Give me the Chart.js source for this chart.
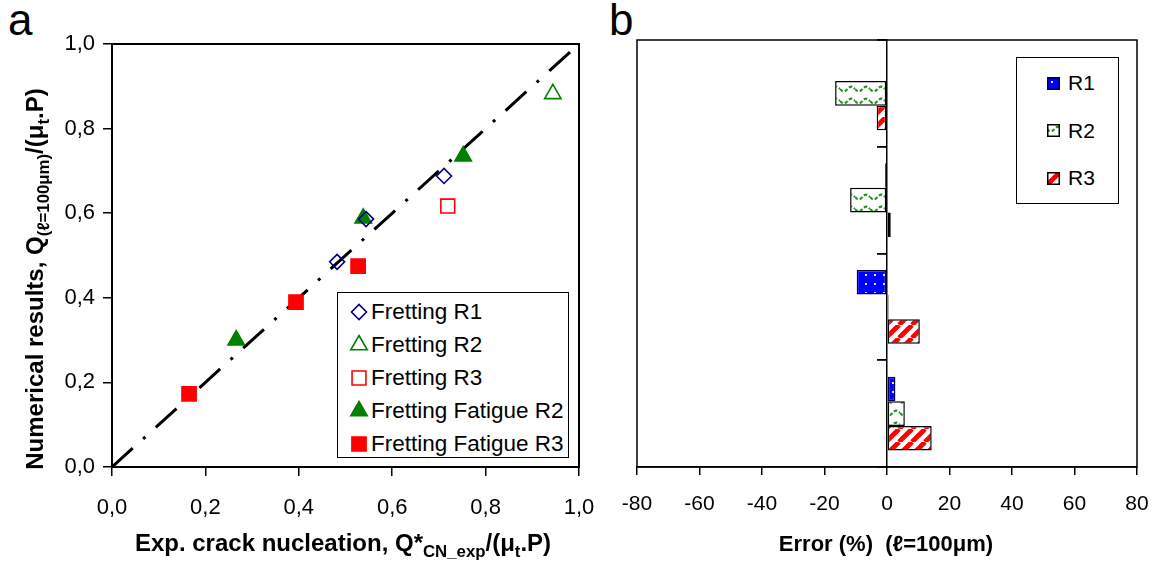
<!DOCTYPE html>
<html>
<head>
<meta charset="utf-8">
<script src="https://cdn.jsdelivr.net/npm/chart.js@4.4.0/dist/chart.umd.min.js"></script>
<style>
  html, body { margin: 0; padding: 0; background: #fff; }
  body { position: relative; width: 1154px; height: 565px; overflow: hidden;
         font-family: "Liberation Sans", Arial, sans-serif; color: #000; }
  canvas.fig { position: absolute; top: 0; }
  #fig-a { left: 0; }
  #fig-b { left: 600px; }
  .panel { position: absolute; font-size: 44px; line-height: 44px; }
  .title { position: absolute; font-weight: bold; white-space: nowrap; text-align: center;
           font-size: 24px; line-height: 28px; }
  .title sub { font-size: 70%; vertical-align: -0.35em; line-height: 0; }
  .legend { position: absolute; border: 1.5px solid #000; background: #fff; box-sizing: border-box; }
  .legend span { position: absolute; white-space: nowrap; line-height: 26px; }
  .legend canvas { position: absolute; }
</style>
</head>
<body>

<div class="panel" style="left:8px;top:-2px">a</div>
<div class="panel" style="left:609px;top:-2px">b</div>

<canvas class="fig" id="fig-a" width="600" height="565"></canvas>
<canvas class="fig" id="fig-b" width="554" height="565"></canvas>

<div class="title" id="ytitle-a" style="left:-215px;top:265px;width:500px;transform:rotate(-90deg)">Numerical results, Q<sub>(ℓ=100μm)</sub>/(μ<sub>t</sub>.P)</div>
<div class="title" id="xtitle-a" style="left:93px;top:529px;width:500px">Exp. crack nucleation, Q*<sub>CN_exp</sub>/(μ<sub>t</sub>.P)</div>
<div class="title" id="xtitle-b" style="left:736px;top:530px;width:300px;font-size:22px">Error (%)&nbsp;&nbsp;(ℓ=100μm)</div>

<div class="legend" id="legend-a" style="left:337px;top:292px;width:232px;height:166px"></div>
<div class="legend" id="legend-b" style="left:1016px;top:57px;width:103px;height:147px"></div>

<script>
/*-----------------------------
Data (a): numerical vs experimental, normalised
------------------------------*/
const seriesA = ['Fretting R1', 'Fretting R2', 'Fretting R3', 'Fretting Fatigue R2', 'Fretting Fatigue R3'];

const fr1X = [0.482, 0.544, 0.711];
const fr1Y = [0.485, 0.586, 0.688];
const fr2X = [0.944];
const fr2Y = [0.882];
const fr3X = [0.719];
const fr3Y = [0.617];
const ffr2X = [0.266, 0.538, 0.752];
const ffr2Y = [0.300, 0.588, 0.735];
const ffr3X = [0.165, 0.394, 0.527];
const ffr3Y = [0.173, 0.390, 0.475];

// y = x reference line
const diagX = [0, 1];
const diagY = [0, 1];

/*-----------------------------
Data (b): error in %, four cases, three ratios
------------------------------*/
const seriesB = ['R1', 'R2', 'R3'];
const cases = ['1', '2', '3', '4'];
const errR1 = [null, -0.6, -9.7, 2.7];
const errR2 = [-16.6, -11.8, 0.5, 5.7];
const errR3 = [-3.3, 1.2, 10.5, 14.3];

Chart.defaults.font.family = '"Liberation Sans", Arial, sans-serif';
Chart.defaults.color = '#000';

function pts(xs, ys) {
    return xs.map((x, i) => ({x: x, y: ys[i]}));
}

function comma(v) {
    return v.toFixed(1).replace('.', ',');
}

// fixed axis box, no label overhang padding (canvas margins handle it)
function bottomAxisFit(s) {
    s.paddingLeft = 0;
    s.paddingRight = 0;
    s.height = 60;
}

// box around the plot area
const frame = {
    id: 'frame',
    afterDraw(chart, args, opts) {
        const a = chart.chartArea;
        const ctx = chart.ctx;
        ctx.save();
        ctx.strokeStyle = '#000';
        ctx.lineWidth = opts.width || 1.5;
        ctx.strokeRect(a.left, a.top, a.right - a.left, a.bottom - a.top);
        ctx.restore();
    }
};

//------------------------
// marker styles (a)
//------------------------
const markerA = [
    {pointStyle: 'rectRot', radius: 7.5, fill: 'rgba(0,0,0,0)', stroke: '#000080'},
    {pointStyle: 'triangle', radius: 9.5, fill: 'rgba(0,0,0,0)', stroke: '#008000'},
    {pointStyle: 'rect', radius: 9.8, fill: 'rgba(0,0,0,0)', stroke: '#FF0000'},
    {pointStyle: 'triangle', radius: 9.5, fill: '#008000', stroke: '#008000'},
    {pointStyle: 'rect', radius: 10, fill: '#FF0000', stroke: '#FF0000'}
];
const valuesA = [pts(fr1X, fr1Y), pts(fr2X, fr2Y), pts(fr3X, fr3Y), pts(ffr2X, ffr2Y), pts(ffr3X, ffr3Y)];

const datasetsA = seriesA.map((name, i) => ({
    label: name,
    data: valuesA[i],
    pointStyle: markerA[i].pointStyle,
    pointRadius: markerA[i].radius,
    pointBackgroundColor: markerA[i].fill,
    pointBorderColor: markerA[i].stroke,
    pointBorderWidth: 1.6
}));
datasetsA.push({
    label: 'y = x',
    data: pts(diagX, diagY),
    showLine: true,
    borderColor: '#000',
    borderWidth: 3,
    borderDash: [28, 14, 3, 14],
    pointRadius: 0
});

new Chart(document.getElementById('fig-a'), {
    type: 'scatter',
    data: {datasets: datasetsA},
    options: {
        responsive: false,
        animation: false,
        events: [],
        layout: {padding: {left: 50, right: 21, top: 44, bottom: 38}},
        plugins: {legend: {display: false}, tooltip: {enabled: false}, frame: {width: 2}},
        scales: {
            x: {
                type: 'linear', min: 0, max: 1,
                ticks: {stepSize: 0.2, callback: comma, font: {size: 22}, padding: 19, maxRotation: 0},
                grid: {drawOnChartArea: false, tickLength: 9, color: '#000', lineWidth: 1.5},
                border: {color: '#000', width: 2},
                afterFit: bottomAxisFit
            },
            y: {
                type: 'linear', min: 0, max: 1,
                ticks: {stepSize: 0.2, callback: comma, font: {size: 22}, padding: 8},
                grid: {drawOnChartArea: false, tickLength: 9, color: '#000', lineWidth: 1.5},
                border: {color: '#000', width: 2},
                afterFit(s) { s.width = 62; }
            }
        }
    },
    plugins: [frame]
});

//------------------------
// fill patterns (b)
//------------------------
function makeTile(kind) {
    const c = document.createElement('canvas');
    const g = c.getContext('2d');
    if (kind === 'dots') {
        c.width = 9; c.height = 9;
        g.fillStyle = '#0000FF';
        g.fillRect(0, 0, 9, 9);
        g.fillStyle = '#E0E8FF';
        g.fillRect(4, 4, 2, 2);
    } else if (kind === 'wave') {
        c.width = 15; c.height = 12;
        g.fillStyle = '#fff';
        g.fillRect(0, 0, 15, 12);
        g.strokeStyle = '#2A8F2A';
        g.lineWidth = 2.2;
        g.setLineDash([3.5, 2]);
        g.beginPath();
        for (let x = 0; x <= 15; x += 0.5) {
            const y = 5 + 2.3 * Math.sin(2 * Math.PI * x / 15);
            if (x === 0) g.moveTo(x, y); else g.lineTo(x, y);
        }
        g.stroke();
    } else {
        const s = 13;
        c.width = s; c.height = s;
        g.fillStyle = '#fff';
        g.fillRect(0, 0, s, s);
        g.strokeStyle = '#FF0000';
        g.lineWidth = 4.8;
        g.beginPath();
        g.moveTo(-s, s); g.lineTo(0, 0);
        g.moveTo(0, s); g.lineTo(s, 0);
        g.moveTo(s, s); g.lineTo(2 * s, 0);
        g.stroke();
    }
    return c;
}
const tilesB = [makeTile('dots'), makeTile('wave'), makeTile('stripes')];
const borderB = ['#000040', '#000', '#000'];

const ctxB = document.getElementById('fig-b').getContext('2d');
const valuesB = [errR1, errR2, errR3];

new Chart(ctxB, {
    type: 'bar',
    data: {
        labels: cases,
        datasets: seriesB.map((name, i) => ({
            label: name,
            data: valuesB[i],
            backgroundColor: ctxB.createPattern(tilesB[i], 'repeat'),
            borderColor: borderB[i],
            borderWidth: 1.5,
            borderSkipped: false
        }))
    },
    options: {
        indexAxis: 'y',
        responsive: false,
        animation: false,
        events: [],
        datasets: {bar: {barPercentage: 1, categoryPercentage: 0.69}},
        layout: {padding: {left: 37, right: 17, top: 40, bottom: 38}},
        plugins: {legend: {display: false}, tooltip: {enabled: false}, frame: {width: 1.5}},
        scales: {
            x: {
                type: 'linear', min: -80, max: 80,
                ticks: {stepSize: 20, font: {size: 21}, padding: 17, maxRotation: 0},
                grid: {drawOnChartArea: false, tickLength: 8, color: '#000', lineWidth: 1.5},
                border: {color: '#000', width: 1.5},
                afterFit: bottomAxisFit
            },
            y: {
                position: {x: 0},
                ticks: {display: false},
                grid: {drawOnChartArea: false, tickLength: 9, color: '#000', lineWidth: 1.8, offset: true},
                border: {color: '#000', width: 1.5}
            }
        }
    },
    plugins: [frame]
});

//------------------------
// legends
//------------------------
const legA = document.getElementById('legend-a');
seriesA.forEach((name, i) => {
    const cy = 19 + i * 33;
    const c = document.createElement('canvas');
    c.width = 24; c.height = 24;
    c.style.left = '9px';
    c.style.top = (cy - 12) + 'px';
    const g = c.getContext('2d');
    g.fillStyle = markerA[i].fill;
    g.strokeStyle = markerA[i].stroke;
    g.lineWidth = 1.6;
    Chart.helpers.drawPoint(g, {pointStyle: markerA[i].pointStyle, radius: markerA[i].radius, rotation: 0, borderWidth: 1.6}, 12, 12);
    legA.appendChild(c);
    const t = document.createElement('span');
    t.textContent = name;
    t.style.left = '33px';
    t.style.top = (cy - 13) + 'px';
    t.style.fontSize = '22.5px';
    legA.appendChild(t);
});

const legB = document.getElementById('legend-b');
seriesB.forEach((name, i) => {
    const cy = 25 + i * 47.5;
    const c = document.createElement('canvas');
    c.width = 13; c.height = 13;
    c.style.left = '30px';
    c.style.top = (cy - 6.5) + 'px';
    const g = c.getContext('2d');
    g.fillStyle = g.createPattern(tilesB[i], 'repeat');
    g.fillRect(0, 0, 13, 13);
    g.strokeStyle = borderB[i];
    g.lineWidth = 1.5;
    g.strokeRect(0.75, 0.75, 11.5, 11.5);
    legB.appendChild(c);
    const t = document.createElement('span');
    t.textContent = name;
    t.style.left = '51px';
    t.style.top = (cy - 13) + 'px';
    t.style.fontSize = '21px';
    legB.appendChild(t);
});
</script>
</body>
</html>
